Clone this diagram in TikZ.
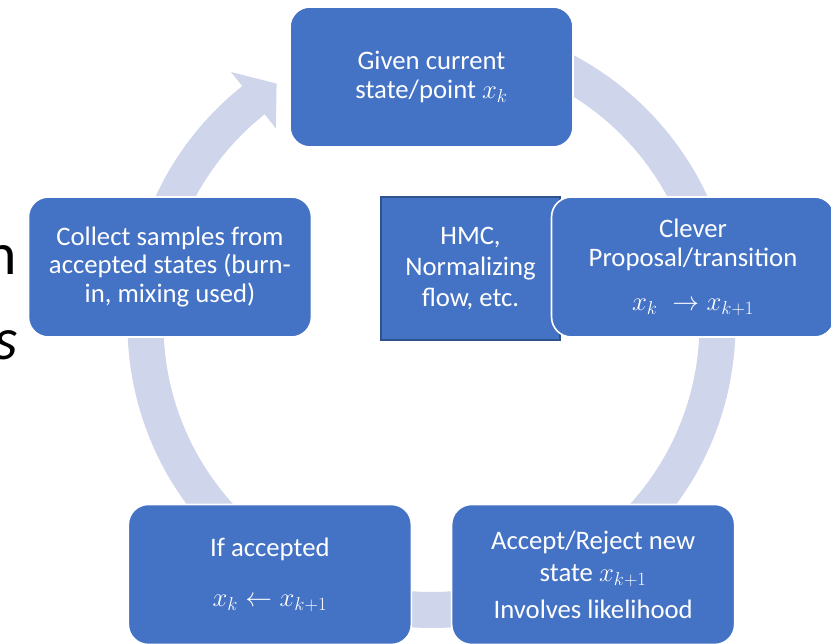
\documentclass[tikz,border=0pt]{standalone}
\usepackage{fix-cm}
\usepackage{fontspec}
\setmainfont{Carlito}
\usepackage{tikz}
\usetikzlibrary{positioning}
\definecolor{boxblue}{HTML}{4472C4}
\definecolor{ringlav}{HTML}{CFD5EA}
\definecolor{edgeblue}{HTML}{2F528F}

\begin{document}
\begin{tikzpicture}[
          x=1bp, y=1bp,
          stage/.style={rectangle, rounded corners=20bp, fill=boxblue, draw=white, line width=1.6bp,
            minimum width=283bp, minimum height=140bp, text=white, align=center,
            font=\fontsize{26.8}{29}\selectfont},
          aside/.style={rectangle, fill=boxblue, draw=edgeblue, line width=1.6bp,
            minimum width=179bp, minimum height=143bp, text=white, align=center,
            font=\fontsize{26.8}{31}\selectfont},
          backtext/.style={text=black, font=\fontsize{60}{70}\selectfont, inner sep=0pt}
        ]
        \useasboundingbox (0,0) rectangle (831,644);
        \clip (0,0) rectangle (831,644);
        \node [backtext, anchor=base east] (frag1) at (17,369) {n};
        \node [backtext, anchor=base east] (frag2) at (18,284) {\itshape is};
        \coordinate (hub) at (431.5,320);
        \fill [ringlav, shift={(hub)}] (90:304) arc [start angle=90, end angle=-231.5, radius=304]
          -- (128.5:322) -- (122.8:286) -- (128.5:250) -- (128.5:268)
          arc [start angle=-231.5, end angle=90, radius=268] -- cycle;
        \node [aside] (hmc) at (470.5,375.5) {HMC,\\ Normalizing\\ flow, etc.};
        \begin{scope}[shift={(431.5,292)}]
          \node [stage] (given) at (90:275) {Given current\\ state/point $x_k$};
          \node [stage] (propose) at (18:275) {Clever\\ Proposal/transition\\[15bp] $x_k\;\rightarrow x_{k+1}$};
          \node [stage] (decide) at (-54:275) {Accept/Reject new\\[3bp] state $x_{k+1}$\\[8bp] Involves likelihood};
          \node [stage] (update) at (-126:275) {If accepted\\[21bp] $x_k \leftarrow x_{k+1}$};
          \node [stage] (collect) at (162:275) {Collect samples from\\ accepted states (burn-\\ in, mixing used)};
        \end{scope}
        \end{tikzpicture}
\end{document}
